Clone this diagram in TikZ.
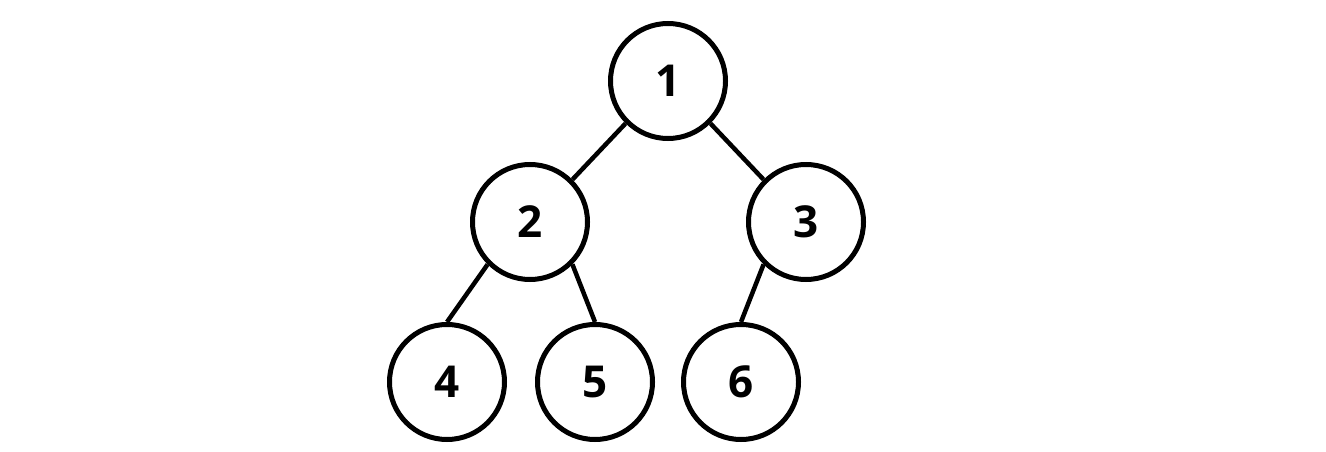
\documentclass[tikz,border=0pt]{standalone}
\usepackage{fontspec}
\setmainfont{Open Sans}
\begin{document}
\begin{tikzpicture}[x=1pt,y=-1pt,
  tnode/.style={circle,draw=black,line width=5pt,minimum size=115pt,inner sep=0pt,fill=white,font=\fontsize{44}{44}\selectfont\bfseries},
  tedge/.style={line width=4.5pt}]
\useasboundingbox (0,0) rectangle (1326,452);
\node[tnode] (n1) at (668,81) {1};
\node[tnode] (n2) at (530,222) {2};
\node[tnode] (n3) at (806,222) {3};
\node[tnode] (n4) at (447,382) {4};
\node[tnode] (n5) at (595,382) {5};
\node[tnode] (n6) at (741,382) {6};
\draw[tedge] (n1.225) -- (n2.45);
\draw[tedge] (n1.315) -- (n3.135);
\draw[tedge] (n2.225) -- (n4.north);
\draw[tedge] (n2.315) -- (n5.north);
\draw[tedge] (n3.225) -- (n6.north);
\end{tikzpicture}
\end{document}
